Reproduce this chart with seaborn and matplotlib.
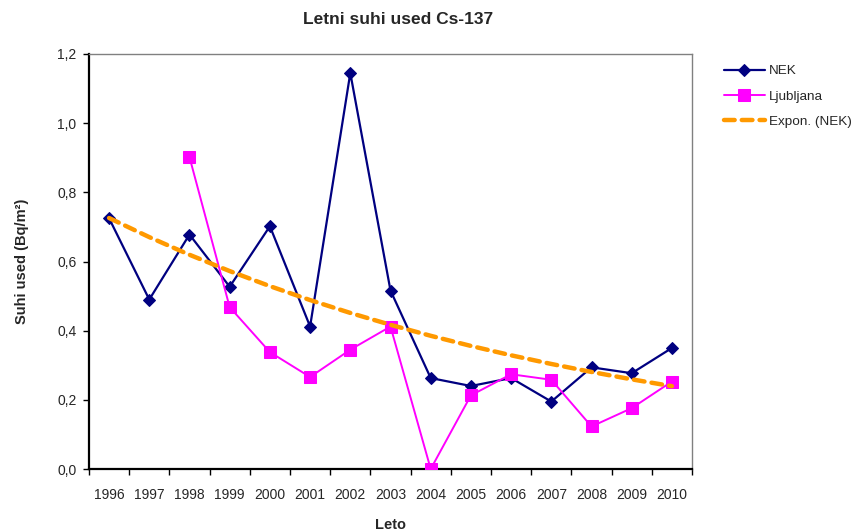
import numpy as np
import pandas as pd
import matplotlib
matplotlib.use("Agg")
import matplotlib.pyplot as plt
from matplotlib.ticker import FuncFormatter, FixedLocator
import seaborn as sns

years = [1996, 1997, 1998, 1999, 2000, 2001, 2002, 2003,
         2004, 2005, 2006, 2007, 2008, 2009, 2010]
nek = [0.725, 0.490, 0.678, 0.527, 0.702, 0.412, 1.145, 0.516,
       0.263, 0.240, 0.263, 0.195, 0.294, 0.277, 0.350]
ljubljana = [np.nan, np.nan, 0.902, 0.468, 0.338, 0.266, 0.345, 0.412,
             0.000, 0.213, 0.274, 0.258, 0.123, 0.176, 0.253]
y_ticks = [0.0, 0.2, 0.4, 0.6, 0.8, 1.0, 1.2]

sns.set_style("white")
plt.rcParams["font.family"] = ["Liberation Sans", "DejaVu Sans"]

pos = np.arange(len(years))
df = pd.DataFrame({"pos": pos, "NEK": nek, "Ljubljana": ljubljana})

# exponential trend fitted to the NEK series (least squares on log values)
b, a = np.polyfit(pos, np.log(df["NEK"]), 1)
df["trend"] = np.exp(a + b * pos)

fig = plt.figure(figsize=(8.53, 5.32), dpi=100)
ax = fig.add_axes([0.1043, 0.1184, 0.7070, 0.7801])

sns.lineplot(data=df, x="pos", y="NEK", ax=ax, color="#000080", lw=1.6,
             marker="D", markersize=6.5, markeredgecolor="#000080",
             label="NEK", zorder=3)
sns.lineplot(data=df.dropna(), x="pos", y="Ljubljana", ax=ax, color="#FF00FF",
             lw=1.4, marker="s", markersize=8, markeredgecolor="#FF00FF",
             label="Ljubljana", zorder=4)
sns.lineplot(data=df, x="pos", y="trend", ax=ax, color="#FF9900", lw=3.2,
             dashes=False, linestyle=(0, (2.4, 1.6)), dash_capstyle="round",
             label="Expon. (NEK)", zorder=5)

ax.set_xlim(-0.5, len(years) - 0.5)
ax.set_ylim(0, 1.2)
ax.xaxis.set_major_locator(FixedLocator(pos))
ax.set_xticklabels([str(y) for y in years])
ax.xaxis.set_minor_locator(FixedLocator(np.arange(-0.5, len(years), 1.0)))
ax.tick_params(axis="x", which="major", length=0, pad=14, labelsize=10)
ax.tick_params(axis="x", which="minor", length=4, width=1, color="black",
               direction="out", bottom=True)
ax.set_yticks(y_ticks)
ax.yaxis.set_major_formatter(FuncFormatter(lambda v, _: f"{v:.1f}".replace(".", ",")))
ax.tick_params(axis="y", length=4, width=1, color="black", direction="out",
               left=True, labelsize=10, pad=5)

for side in ("left", "bottom"):
    ax.spines[side].set_color("black")
    ax.spines[side].set_linewidth(1.6)
for side in ("top", "right"):
    ax.spines[side].set_color("#808080")
    ax.spines[side].set_linewidth(1.0)

ax.set_xlabel("Leto", fontsize=10.5, fontweight="bold", labelpad=11)
ax.set_ylabel("Suhi used (Bq/m²)", fontsize=10.5, fontweight="bold", labelpad=20)
fig.suptitle("Letni suhi used Cs-137", x=0.467, y=0.977, fontsize=12.5,
             fontweight="bold")

leg = ax.legend(loc="upper left", bbox_to_anchor=(0.849, 0.878),
                bbox_transform=fig.transFigure, frameon=False, fontsize=9.7,
                handlelength=3.0, handletextpad=0.35, labelspacing=0.95,
                borderaxespad=0, borderpad=0)

fig.savefig("out.png", dpi=100, facecolor="white")
